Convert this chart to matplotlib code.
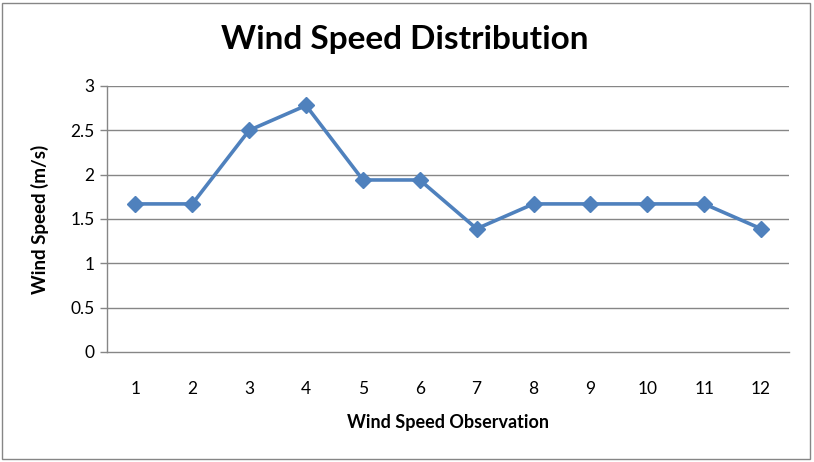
import matplotlib.pyplot as plt
import matplotlib.patches as mpatches

# Datos del gráfico
observaciones = [1, 2, 3, 4, 5, 6, 7, 8, 9, 10, 11, 12]
velocidad = [1.67, 1.67, 2.5, 2.78, 1.94, 1.94, 1.39, 1.67, 1.67, 1.67, 1.67, 1.39]
y_ticks = [0, 0.5, 1, 1.5, 2, 2.5, 3]
y_labels = ['0', '0.5', '1', '1.5', '2', '2.5', '3']

plt.rcParams['font.family'] = ['Lato', 'DejaVu Sans']

fig = plt.figure(figsize=(8.14, 4.62), dpi=100)
ax = fig.add_axes([0.1314, 0.2381, 0.8385, 0.5758])

grid_color = '#868686'
for y in y_ticks[1:]:
    ax.axhline(y, color=grid_color, linewidth=1.0, zorder=1)

ax.plot(observaciones, velocidad, color='#4F81BD', linewidth=2.6,
        marker='D', markersize=8, zorder=3)

ax.set_xlim(0.5, 12.5)
ax.set_ylim(0, 3)
ax.set_xticks(observaciones)
ax.set_xticklabels([str(o) for o in observaciones])
ax.set_yticks(y_ticks)
ax.set_yticklabels(y_labels)

for s in ['top', 'right']:
    ax.spines[s].set_visible(False)
ax.spines['left'].set_color(grid_color)
ax.spines['bottom'].set_color(grid_color)
ax.spines['left'].set_linewidth(1.0)
ax.spines['bottom'].set_linewidth(1.0)

ax.tick_params(axis='y', length=5, width=1.0, color=grid_color, labelsize=12.5, pad=4)
ax.tick_params(axis='x', length=0, labelsize=12.5, pad=21)

ax.set_ylabel('Wind Speed (m/s)', fontsize=13.5, fontweight='bold', labelpad=15)
ax.set_xlabel('Wind Speed Observation', fontsize=13, fontweight='bold', labelpad=12)

fig.text(0.497, 0.915, 'Wind Speed Distribution', ha='center', va='center',
         fontsize=24, fontweight='bold')

# Borde del gráfico
borde = mpatches.Rectangle((0.003, 0.006), 0.992, 0.988, transform=fig.transFigure,
                           fill=False, edgecolor='#868686', linewidth=1.0)
fig.patches.append(borde)

fig.savefig('out.png', dpi=100)
